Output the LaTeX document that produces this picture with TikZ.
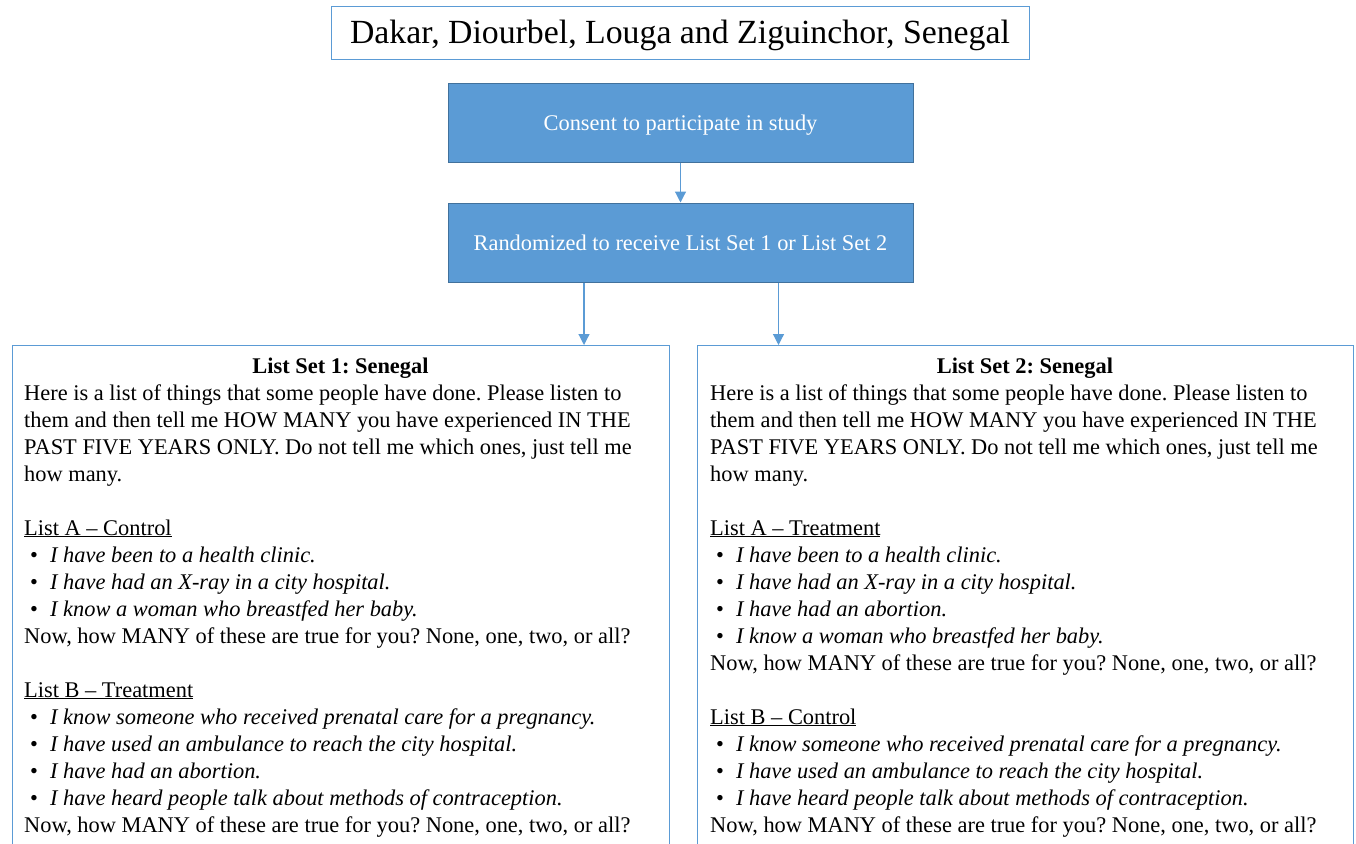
\documentclass[tikz,border=0pt]{standalone}
\usepackage{fontspec}
\setmainfont{Liberation Serif}
\usetikzlibrary{arrows.meta}
\definecolor{offblue}{HTML}{5B9BD5}
\definecolor{offdark}{HTML}{41719C}
\newcommand\bodyfont{\fontsize{22.4}{27}\selectfont\frenchspacing}
\newcommand\bitem[1]{\hspace*{6pt}\makebox[20pt][l]{•}\textit{#1}}
\tikzset{
  txt/.style={anchor=base west, inner sep=0pt, font=\bodyfont},
  ttl/.style={anchor=base, inner sep=0pt, font=\bodyfont\bfseries},
  bluebox/.style={draw=offdark, fill=offblue, line width=1pt, text=white, font=\bodyfont, minimum width=465pt, minimum height=79pt, inner sep=0pt, text height=15pt, text depth=0pt},
  listbox/.style={draw=offblue, line width=1.2pt, anchor=north west, minimum height=540pt, inner sep=0pt},
  conn/.style={draw=offblue, line width=1.2pt, -{Triangle[width=11pt,length=11pt]}}
}
\begin{document}
\begin{tikzpicture}[x=1pt,y=-1pt]
\useasboundingbox (0,0) rectangle (1356,843);
\node[draw=offblue, line width=1pt, minimum width=698pt, minimum height=53pt, inner sep=0pt, text height=23pt, text depth=3pt, font=\fontsize{33.8}{38}\selectfont] (title) at (680,33.5) {Dakar, Diourbel, Louga and Ziguinchor, Senegal};
\node[bluebox] (consent) at (680.5,122.5) {Consent to participate in study};
\node[bluebox] (rand) at (680.5,242.5) {Randomized to receive List Set 1 or List Set 2};
\node[listbox, minimum width=657pt] (L) at (12,345) {};
\node[listbox, minimum width=656pt] (R) at (697,345) {};
\draw[conn] (consent.south) -- (rand.north);
\draw[conn] ([xshift=-96.5pt]rand.south) -- ([xshift=-96.5pt]rand.south |- L.north);
\draw[conn] ([xshift=98pt]rand.south) -- ([xshift=98pt]rand.south |- R.north);
% left box
\node[ttl] (l0) at (340.5,373) {List Set 1: Senegal};
\node[txt] (l1) at (24,400) {Here is a list of things that some people have done. Please listen to};
\node[txt] (l2) at (24,427) {them and then tell me HOW MANY you have experienced IN THE};
\node[txt] (l3) at (24,454) {PAST FIVE YEARS ONLY. Do not tell me which ones, just tell me};
\node[txt] (l4) at (24,481) {how many.};
\node[txt] (l6) at (24,535) {\underline{List A – Control}};
\node[txt] (l7) at (24,562) {\bitem{I have been to a health clinic.}};
\node[txt] (l8) at (24,589) {\bitem{I have had an X-ray in a city hospital.}};
\node[txt] (l9) at (24,616) {\bitem{I know a woman who breastfed her baby.}};
\node[txt] (l10) at (24,643) {Now, how MANY of these are true for you? None, one, two, or all?};
\node[txt] (l12) at (24,697) {\underline{List B – Treatment}};
\node[txt] (l13) at (24,724) {\bitem{I know someone who received prenatal care for a pregnancy.}};
\node[txt] (l14) at (24,751) {\bitem{I have used an ambulance to reach the city hospital.}};
\node[txt] (l15) at (24,778) {\bitem{I have had an abortion.}};
\node[txt] (l16) at (24,805) {\bitem{I have heard people talk about methods of contraception.}};
\node[txt] (l17) at (24,832) {Now, how MANY of these are true for you? None, one, two, or all?};
% right box
\node[ttl] (r0) at (1025,373) {List Set 2: Senegal};
\node[txt] (r1) at (710,400) {Here is a list of things that some people have done. Please listen to};
\node[txt] (r2) at (710,427) {them and then tell me HOW MANY you have experienced IN THE};
\node[txt] (r3) at (710,454) {PAST FIVE YEARS ONLY. Do not tell me which ones, just tell me};
\node[txt] (r4) at (710,481) {how many.};
\node[txt] (r6) at (710,535) {\underline{List A – Treatment}};
\node[txt] (r7) at (710,562) {\bitem{I have been to a health clinic.}};
\node[txt] (r8) at (710,589) {\bitem{I have had an X-ray in a city hospital.}};
\node[txt] (r9) at (710,616) {\bitem{I have had an abortion.}};
\node[txt] (r10) at (710,643) {\bitem{I know a woman who breastfed her baby.}};
\node[txt] (r11) at (710,670) {Now, how MANY of these are true for you? None, one, two, or all?};
\node[txt] (r13) at (710,724) {\underline{List B – Control}};
\node[txt] (r14) at (710,751) {\bitem{I know someone who received prenatal care for a pregnancy.}};
\node[txt] (r15) at (710,778) {\bitem{I have used an ambulance to reach the city hospital.}};
\node[txt] (r16) at (710,805) {\bitem{I have heard people talk about methods of contraception.}};
\node[txt] (r17) at (710,832) {Now, how MANY of these are true for you? None, one, two, or all?};
\end{tikzpicture}
\end{document}
